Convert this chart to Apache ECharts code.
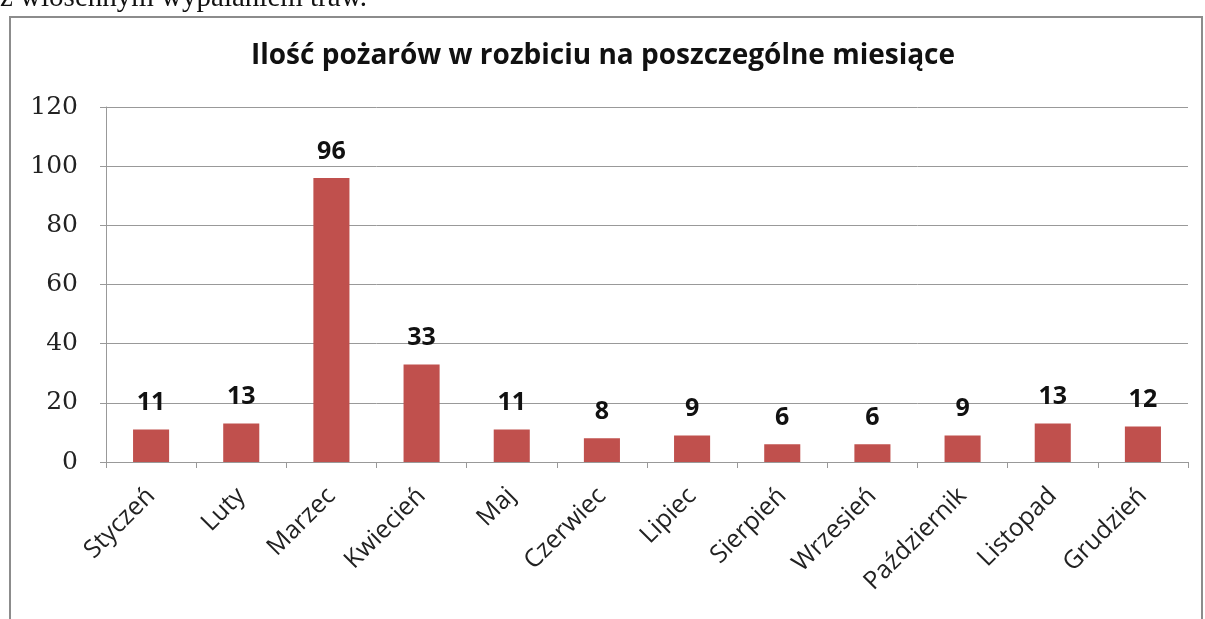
<!DOCTYPE html>
<html>
<head>
<meta charset="utf-8">
<script src="https://cdn.jsdelivr.net/npm/echarts@6/dist/echarts.min.js"></script>
<style>
  html, body { margin: 0; padding: 0; background: #fff; }
  #chart { width: 1205px; height: 619px; }
</style>
</head>
<body>
<div id="chart"></div>
<script>
const months = ["Styczeń", "Luty", "Marzec", "Kwiecień", "Maj", "Czerwiec", "Lipiec",
  "Sierpień", "Wrzesień", "Październik", "Listopad", "Grudzień"];
const fires = [11, 13, 96, 33, 11, 8, 9, 6, 6, 9, 13, 12];
const chartTitle = "Ilość pożarów w rozbiciu na poszczególne miesiące";
const pageText = "z wiosennym wypalaniem traw.";

const chart = echarts.init(document.getElementById("chart"));
chart.setOption({
  animation: false,
  backgroundColor: "#fff",
  title: {
    text: chartTitle,
    left: 598,
    textAlign: "center",
    top: 37,
    textStyle: { fontFamily: "Open Sans", fontWeight: "bold", fontSize: 28, color: "#111" }
  },
  graphic: [
    {
      type: "text",
      left: 0,
      top: -16,
      style: { text: pageText, font: "29px 'Liberation Serif'", fill: "#111" }
    },
    {
      type: "rect",
      shape: { x: 10, y: 17, width: 1192, height: 620 },
      style: { fill: null, stroke: "#8c8c8c", lineWidth: 2 }
    }
  ],
  grid: { left: 106, right: 17, top: 107, bottom: 157 },
  xAxis: {
    type: "category",
    data: months,
    axisLine: { lineStyle: { color: "#999" } },
    axisTick: { show: true, length: 6, lineStyle: { color: "#999" } },
    axisLabel: {
      rotate: 45,
      interval: 0,
      margin: 30,
      fontFamily: "Open Sans",
      fontSize: 25,
      color: "#222"
    }
  },
  yAxis: {
    type: "value",
    min: 0,
    max: 120,
    interval: 20,
    axisLine: { show: true, lineStyle: { color: "#999" } },
    axisTick: { show: true, length: 6, lineStyle: { color: "#999" } },
    splitLine: { lineStyle: { color: "#999" } },
    axisLabel: { fontFamily: "DejaVu Serif", fontSize: 25, color: "#222", margin: 28 }
  },
  series: [{
    type: "bar",
    data: fires,
    barWidth: "40%",
    itemStyle: { color: "#c0504d" },
    label: {
      show: true,
      position: "top",
      distance: 14,
      fontFamily: "Open Sans",
      fontWeight: "bold",
      fontSize: 25,
      color: "#111"
    }
  }]
});
</script>
</body>
</html>
